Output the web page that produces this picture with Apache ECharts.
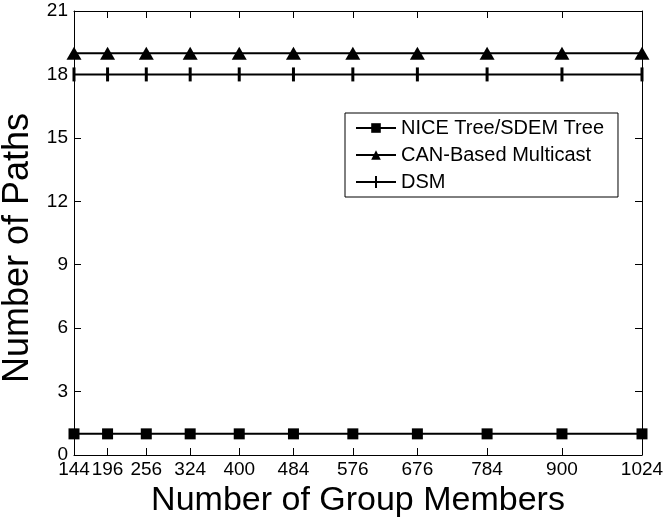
<!DOCTYPE html>
<html>
<head>
<meta charset="utf-8">
<script src="https://cdn.jsdelivr.net/npm/echarts@6/dist/echarts.min.js"></script>
<style>
  html, body { margin: 0; padding: 0; background: #fff; }
  #chart { width: 666px; height: 518px; }
</style>
</head>
<body>
<div id="chart"></div>
<script>
// group sizes (x values)
const members = [144, 196, 256, 324, 400, 484, 576, 676, 784, 900, 1024];
// number of paths per scheme
const niceTree = [1, 1, 1, 1, 1, 1, 1, 1, 1, 1, 1];
const canMulticast = [19, 19, 19, 19, 19, 19, 19, 19, 19, 19, 19];
const dsm = [18, 18, 18, 18, 18, 18, 18, 18, 18, 18, 18];

const chart = echarts.init(document.getElementById('chart'));

const font = 'Liberation Sans, Arial, sans-serif';
const pairs = arr => members.map((m, i) => [m, arr[i]]);
// line with a vertical tick, for the DSM legend entry
const crossIcon = 'path://M0,5L19,5L19,0L21,0L21,5L40,5L40,7L21,7L21,12L19,12L19,7L0,7Z';

const lineSeries = (name, data, symbol, size) => ({
  name: name,
  type: 'line',
  data: pairs(data),
  symbol: symbol,
  symbolSize: size,
  showAllSymbol: true,
  lineStyle: { color: '#000', width: 2 },
  itemStyle: { color: '#000' },
  emphasis: { disabled: true },
  animation: false
});

const option = {
  backgroundColor: '#fff',
  textStyle: { fontFamily: font },
  grid: { left: 74, right: 24, top: 11, bottom: 63, outerBoundsMode: 'none' },
  legend: {
    orient: 'vertical',
    left: 345,
    top: 113,
    itemWidth: 40,
    itemHeight: 12,
    itemGap: 7,
    padding: [5, 14, 5, 10],
    borderColor: '#000',
    borderWidth: 1,
    backgroundColor: '#fff',
    textStyle: { fontSize: 20, color: '#000', fontFamily: font },
    data: [
      { name: 'NICE Tree/SDEM Tree' },
      { name: 'CAN-Based Multicast' },
      { name: 'DSM', icon: crossIcon }
    ]
  },
  xAxis: [{
    type: 'value',
    min: 144,
    max: 1024,
    name: 'Number of Group Members',
    nameLocation: 'middle',
    nameGap: 28,
    nameTextStyle: { fontSize: 34, color: '#000', fontFamily: font },
    axisLine: { lineStyle: { color: '#000', width: 1 } },
    axisTick: { inside: true, length: 7, customValues: members, lineStyle: { color: '#000' } },
    axisLabel: {
      customValues: members,
      formatter: v => String(v),
      fontSize: 19,
      color: '#000',
      margin: 5,
      fontFamily: font
    },
    splitLine: { show: false }
  }, {
    type: 'value',
    position: 'top',
    min: 144,
    max: 1024,
    axisLine: { show: true, onZero: false, lineStyle: { color: '#000', width: 1 } },
    axisTick: { inside: true, length: 7, customValues: members, lineStyle: { color: '#000' } },
    axisLabel: { show: false },
    splitLine: { show: false }
  }],
  yAxis: [{
    type: 'value',
    min: 0,
    max: 21,
    interval: 3,
    name: 'Number of Paths',
    nameLocation: 'middle',
    nameGap: 30,
    nameTextStyle: { fontSize: 36, color: '#000', fontFamily: font, padding: [0, 30, 0, 0] },
    axisLine: { show: true, lineStyle: { color: '#000', width: 1 } },
    axisTick: { show: true, inside: true, length: 7, lineStyle: { color: '#000' } },
    axisLabel: { fontSize: 19, color: '#000', margin: 6, fontFamily: font },
    splitLine: { show: false }
  }, {
    type: 'value',
    position: 'right',
    min: 0,
    max: 21,
    interval: 3,
    axisLine: { show: true, onZero: false, lineStyle: { color: '#000', width: 1 } },
    axisTick: { show: true, inside: true, length: 7, lineStyle: { color: '#000' } },
    axisLabel: { show: false },
    splitLine: { show: false }
  }],
  series: [
    lineSeries('NICE Tree/SDEM Tree', niceTree, 'rect', 11),
    lineSeries('CAN-Based Multicast', canMulticast, 'triangle', [15, 13]),
    lineSeries('DSM', dsm, 'rect', [3, 14])
  ]
};

chart.setOption(option);
</script>
</body>
</html>
